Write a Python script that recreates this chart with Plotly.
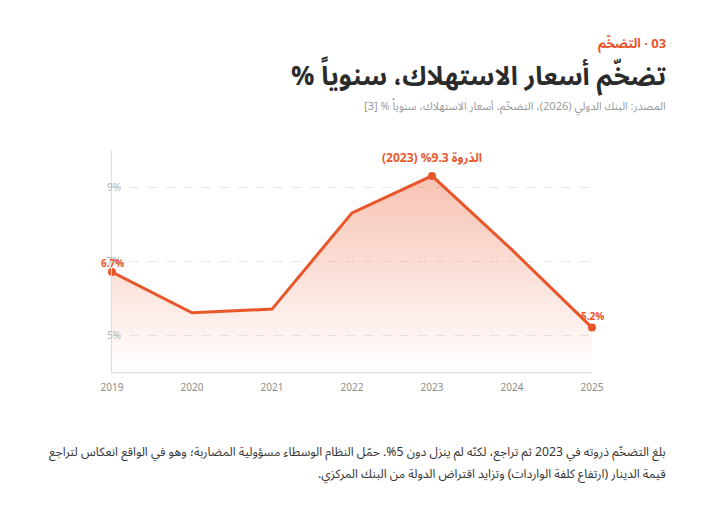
import plotly.graph_objects as go

years = [2019, 2020, 2021, 2022, 2023, 2024, 2025]
inflation = [6.7, 5.6, 5.7, 8.3, 9.3, 7.3, 5.2]
marked_years = [2019, 2023, 2025]
y_ticks = [5, 7, 9]
y_tick_labels = ["5%", "7%", "9%"]

kicker = "03 · التضخّم"
title = "تضخّم أسعار الاستهلاك، سنوياً %"
source = "المصدر: البنك الدولي (2026)، التضخّم، أسعار الاستهلاك، سنوياً % [3]"
peak_label = "الذروة 9.3% (2023)"
body_lines = [
    "بلغ التضخّم ذروته في 2023 ثم تراجع، لكنّه لم ينزل دون 5%. حمّل النظام الوسطاء مسؤولية المضاربة؛ وهو في الواقع انعكاس لتراجع",
    "قيمة الدينار (ارتفاع كلفة الواردات) وتزايد اقتراض الدولة من البنك المركزي.",
]

ORANGE = "#e8562a"
FONT = "Noto Sans Arabic, Noto Sans, DejaVu Sans, sans-serif"


def rtl(s):
    # force right-to-left rendering inside svg text
    return "\u202b" + s + "\u202c"


marked_vals = [inflation[years.index(y)] for y in marked_years]

fig = go.Figure()
fig.add_trace(go.Scatter(
    x=years, y=inflation, mode="lines",
    line=dict(color=ORANGE, width=3),
    fill="tozeroy",
    fillgradient=dict(
        type="vertical",
        colorscale=[[0, "rgba(232,86,42,0.0)"], [1, "rgba(232,86,42,0.36)"]],
        start=4, stop=max(inflation),
    ),
    hoverinfo="skip", showlegend=False,
))
fig.add_trace(go.Scatter(
    x=marked_years, y=marked_vals, mode="markers",
    marker=dict(color=ORANGE, size=8),
    cliponaxis=False,
    hoverinfo="skip", showlegend=False,
))

# point labels
fig.add_annotation(x=2019, y=inflation[0], text="<b>6.7%</b>", showarrow=False,
                   yshift=9, font=dict(size=10, color=ORANGE, family=FONT))
fig.add_annotation(x=2025, y=inflation[-1], text="<b>5.2%</b>", showarrow=False,
                   yshift=11, font=dict(size=10, color=ORANGE, family=FONT))
fig.add_annotation(x=2023, y=max(inflation), text="<b>" + rtl(peak_label) + "</b>",
                   showarrow=False, yshift=17,
                   font=dict(size=12, color=ORANGE, family=FONT))

# header
fig.add_annotation(xref="paper", yref="paper", x=1.158, y=1.4775, xanchor="right",
                   yanchor="middle", text="<b>" + rtl(kicker) + "</b>", showarrow=False,
                   font=dict(size=13, color=ORANGE, family=FONT))
fig.add_annotation(xref="paper", yref="paper", x=1.158, y=1.333, xanchor="right",
                   yanchor="middle", text="<b>" + rtl(title) + "</b>", showarrow=False,
                   font=dict(size=26, color="#2b2b2b", family=FONT))
fig.add_annotation(xref="paper", yref="paper", x=1.158, y=1.194, xanchor="right",
                   yanchor="middle", text=rtl(source), showarrow=False,
                   font=dict(size=11, color="#9a9a9a", family=FONT))

# commentary
for i, line in enumerate(body_lines):
    fig.add_annotation(xref="paper", yref="paper", x=1.158, y=-0.36 - i * 0.099,
                       xanchor="right", yanchor="middle", text=rtl(line),
                       showarrow=False, font=dict(size=12.2, color="#333333", family=FONT))

fig.update_layout(
    width=720, height=516,
    margin=dict(l=104, r=136, t=142, b=152),
    plot_bgcolor="white", paper_bgcolor="white",
    font=dict(family=FONT),
    xaxis=dict(
        range=[2019, 2025], tickvals=years, showgrid=False, zeroline=False,
        showline=True, linecolor="#dddddd", linewidth=1,
        tickfont=dict(size=10, color="#8a8a8a", family="Noto Sans"),
        ticks="", ticklabelstandoff=6,
    ),
    yaxis=dict(
        range=[4, 10], tickvals=y_ticks, ticktext=y_tick_labels,
        showgrid=True, gridcolor="#e8e8e8", griddash="dash", gridwidth=1,
        zeroline=False, showline=True, linecolor="#dddddd", linewidth=1,
        tickfont=dict(size=10, color="#b5b5b5", family="Noto Sans"),
        ticks="", ticklabelstandoff=-12,
    ),
)

fig.write_html("out.html")
